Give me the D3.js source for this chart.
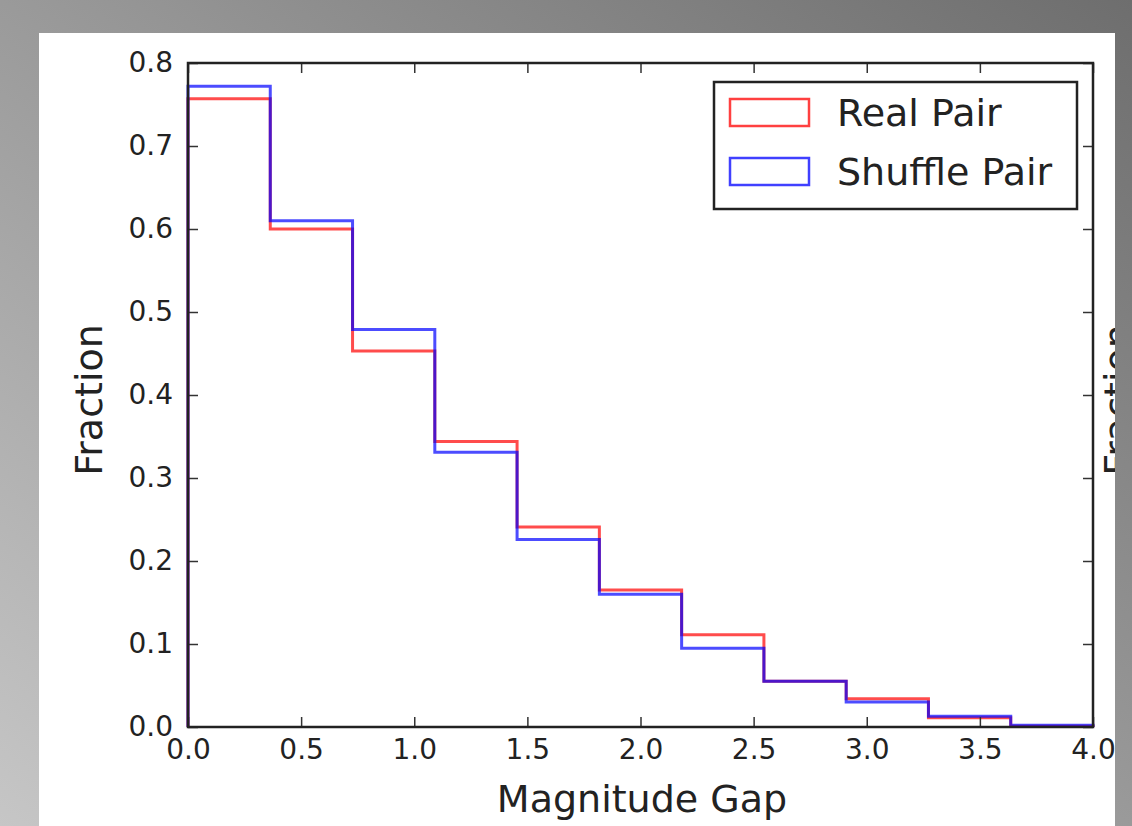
<!DOCTYPE html>
<html>
<head>
<meta charset="utf-8">
<script src="https://cdn.jsdelivr.net/npm/d3@7"></script>
<style>
html,body{margin:0;padding:0;overflow:hidden;}
svg{display:block;}
text{font-family:"DejaVu Sans",sans-serif;fill:#222;}
</style>
</head>
<body>
<script>
// ---- data ----
const binEdges = [0, 0.3636, 0.7273, 1.0909, 1.4545, 1.8182, 2.1818, 2.5455, 2.9091, 3.2727, 3.6364, 4.0];
const realPair    = [0.757, 0.600, 0.453, 0.344, 0.241, 0.165, 0.111, 0.055, 0.034, 0.011, 0.001];
const shufflePair = [0.772, 0.610, 0.479, 0.331, 0.226, 0.160, 0.095, 0.055, 0.030, 0.013, 0.002];
const xTicks = [0, 0.5, 1.0, 1.5, 2.0, 2.5, 3.0, 3.5, 4.0];
const yTicks = [0, 0.1, 0.2, 0.3, 0.4, 0.5, 0.6, 0.7, 0.8];
const seriesNames = ["Real Pair", "Shuffle Pair"];
const seriesColors = ["#ff0000", "#0000ff"];

(function () {
const W = 1132, H = 826;
const svg = d3.select("body").append("svg").attr("width", W).attr("height", H);
const defs = svg.append("defs");
const grad = defs.append("linearGradient").attr("id", "bg")
  .attr("x1", 0).attr("y1", 1).attr("x2", 1).attr("y2", 0);
grad.append("stop").attr("offset", "0%").attr("stop-color", "#c6c6c6");
grad.append("stop").attr("offset", "100%").attr("stop-color", "#6e6e6e");
svg.append("rect").attr("width", W).attr("height", H).attr("fill", "url(#bg)");

// white panel (screenshot of figure)
const panel = {x: 39, y: 33, w: 1076, h: 793};
defs.append("clipPath").attr("id", "panelClip").append("rect")
  .attr("x", panel.x).attr("y", panel.y).attr("width", panel.w).attr("height", panel.h);
svg.append("rect").attr("x", panel.x).attr("y", panel.y).attr("width", panel.w).attr("height", panel.h).attr("fill", "#fff");
const g = svg.append("g").attr("clip-path", "url(#panelClip)");

const pL = 188, pR = 1093, pT = 63, pB = 727;
const x = d3.scaleLinear().domain([0, 4]).range([pL, pR]);
const y = d3.scaleLinear().domain([0, 0.8]).range([pB, pT]);

// step histograms
function stepPath(vals) {
  const p = d3.path();
  p.moveTo(x(binEdges[0]), y(0));
  vals.forEach((v, i) => {
    p.lineTo(x(binEdges[i]), y(v));
    p.lineTo(x(binEdges[i + 1]), y(v));
  });
  p.lineTo(x(binEdges[binEdges.length - 1]), y(0));
  return p.toString();
}
[realPair, shufflePair].forEach((vals, i) => {
  g.append("path").attr("d", stepPath(vals))
    .attr("fill", "none").attr("stroke", seriesColors[i])
    .attr("stroke-opacity", 0.7).attr("stroke-width", 3)
    .attr("stroke-linejoin", "miter");
});

// axes with inward ticks
const tickLen = 10;
const fmt = d3.format(".1f");
const axStyle = sel => {
  sel.select(".domain").remove();
  sel.selectAll(".tick line").attr("stroke", "#333").attr("stroke-width", 1.5);
  sel.selectAll("text").style("font-family", "'DejaVu Sans', sans-serif").style("font-size", "28px").attr("fill", "#222");
};
g.append("g").attr("transform", `translate(0,${pB})`)
  .call(d3.axisBottom(x).tickValues(xTicks).tickFormat(fmt).tickSize(-tickLen).tickPadding(12)).call(axStyle);
g.append("g").attr("transform", `translate(0,${pT})`)
  .call(d3.axisTop(x).tickValues(xTicks).tickFormat("").tickSize(-tickLen)).call(axStyle);
g.append("g").attr("transform", `translate(${pL},0)`)
  .call(d3.axisLeft(y).tickValues(yTicks).tickFormat(fmt).tickSize(-tickLen).tickPadding(15)).call(axStyle);
g.append("g").attr("transform", `translate(${pR},0)`)
  .call(d3.axisRight(y).tickValues(yTicks).tickFormat("").tickSize(-tickLen)).call(axStyle);

// frame
g.append("rect").attr("x", pL).attr("y", pT).attr("width", pR - pL).attr("height", pB - pT)
  .attr("fill", "none").attr("stroke", "#222").attr("stroke-width", 2.5);

// axis labels
g.append("text").attr("x", 642).attr("y", 812)
  .attr("text-anchor", "middle").style("font-size", "38px").text("Magnitude Gap");
g.append("text").attr("transform", `translate(102,400) rotate(-90)`)
  .attr("text-anchor", "middle").style("font-size", "38px").text("Fraction");
// neighbouring figure's y label, cut off at the panel edge
g.append("text").attr("transform", `translate(1131,400) rotate(-90)`)
  .attr("text-anchor", "middle").style("font-size", "38px").text("Fraction");

// legend
const lg = g.append("g");
lg.append("rect").attr("x", 714).attr("y", 82).attr("width", 363).attr("height", 127)
  .attr("fill", "#fff").attr("stroke", "#222").attr("stroke-width", 2.5);
seriesNames.forEach((name, i) => {
  const yy = 99 + i * 59;
  lg.append("rect").attr("x", 730).attr("y", yy).attr("width", 79).attr("height", 27)
    .attr("fill", "none").attr("stroke", seriesColors[i]).attr("stroke-opacity", 0.75).attr("stroke-width", 2.5);
  lg.append("text").attr("x", 837).attr("y", yy + 27).style("font-size", "38px").text(name);
});
})();
</script>
</body>
</html>
